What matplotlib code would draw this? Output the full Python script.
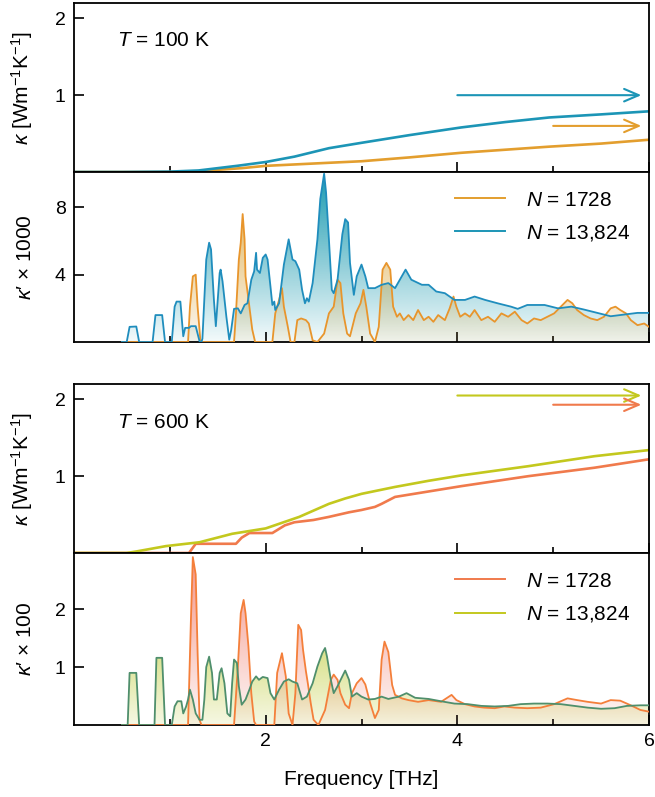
import numpy as np
import matplotlib
matplotlib.use("Agg")
import matplotlib.pyplot as plt
from matplotlib.colors import to_rgb
from matplotlib.lines import Line2D

plt.rcParams['font.family'] = ['Liberation Sans', 'DejaVu Sans']
plt.rcParams['mathtext.fontset'] = 'custom'
plt.rcParams['mathtext.rm'] = 'Liberation Sans'
plt.rcParams['mathtext.it'] = 'Liberation Sans:italic'
plt.rcParams['font.size'] = 15

# DATOS: CONDUCTIVIDAD ACUMULADA, T = 100 K
# ========================================
f_acum_13_100 = [0, 0.5, 1.0, 1.3, 1.5, 1.7, 2.0, 2.3, 2.66, 3.0, 3.5, 4.04, 4.5, 4.96, 5.5, 6.0]
k_acum_13_100 = [0, 0, 0.005, 0.02, 0.05, 0.08, 0.13, 0.2, 0.31, 0.38, 0.48, 0.58, 0.65, 0.71, 0.75, 0.79]
f_acum_17_100 = [0, 1.2, 1.4, 1.75, 2.0, 2.66, 3.0, 3.5, 4.04, 4.5, 4.96, 5.5, 6.0]
k_acum_17_100 = [0, 0, 0.02, 0.05, 0.08, 0.12, 0.14, 0.19, 0.25, 0.29, 0.33, 0.37, 0.42]
k_final_100 = [1.0, 0.6]        # flechas (N=13824, N=1728)

# DATOS: ESPECTRO k' x 1000, T = 100 K
# ===================================
f_esp_13_100 = [0.5, 0.55, 0.58, 0.65, 0.68, 0.82, 0.85, 0.92, 0.95, 1.02, 1.05, 1.07, 1.11, 1.14,
                1.16, 1.2, 1.22, 1.27, 1.31, 1.33, 1.34, 1.38, 1.41, 1.43, 1.46, 1.48, 1.52, 1.53,
                1.55, 1.59, 1.62, 1.64, 1.67, 1.71, 1.74, 1.78, 1.81, 1.85, 1.88, 1.90, 1.91, 1.94,
                1.97, 2.0, 2.02, 2.05, 2.07, 2.09, 2.1, 2.14, 2.19, 2.24, 2.28, 2.31, 2.35, 2.38,
                2.41, 2.43, 2.45, 2.49, 2.54, 2.57, 2.61, 2.63, 2.66, 2.69, 2.71, 2.75, 2.8, 2.83,
                2.86, 2.88, 2.92, 2.95, 3.0, 3.04, 3.07, 3.14, 3.21, 3.28, 3.35, 3.40, 3.46, 3.52,
                3.63, 3.70, 3.78, 3.87, 3.97, 4.08, 4.18, 4.29, 4.42, 4.56, 4.63, 4.73, 4.91, 5.05,
                5.19, 5.32, 5.46, 5.6, 5.74, 5.88, 6.0]
k_esp_13_100 = [0, 0, 0.9, 0.92, 0, 0, 1.6, 1.6, 0, 0, 2.1, 2.4, 2.4, 0.34,
                0.84, 0.84, 0.94, 0.94, 0.04, 0, 0.2, 4.9, 5.9, 5.5, 2.5, 0.94, 4.1, 4.3,
                3.6, 1.5, 0.14, 0.7, 1.97, 2.0, 1.7, 2.2, 2.3, 3.7, 4.2, 5.3, 4.3, 4.1,
                5.0, 5.2, 4.9, 3.3, 2.2, 2.4, 1.9, 2.3, 4.6, 6.1, 4.9, 4.8, 4.3, 3.1,
                2.3, 2.6, 2.4, 3.5, 6.1, 8.5, 10.0, 8.9, 6.1, 3.1, 2.9, 3.7, 6.4, 7.3,
                7.1, 4.7, 2.8, 3.9, 4.6, 3.9, 3.2, 3.2, 3.4, 3.5, 3.2, 3.7, 4.3, 3.7,
                3.4, 3.4, 3.0, 2.9, 2.5, 2.5, 2.7, 2.5, 2.3, 2.1, 1.97, 2.2, 2.2, 2.0,
                2.1, 1.93, 1.73, 1.53, 1.63, 1.73, 1.73]
f_esp_17_100 = [0.5, 1.19, 1.21, 1.24, 1.27, 1.29, 1.32, 1.67, 1.69, 1.72, 1.74, 1.76, 1.78, 1.79,
                1.83, 1.86, 1.89, 2.07, 2.1, 2.14, 2.17, 2.19, 2.23, 2.26, 2.3, 2.33, 2.37, 2.42,
                2.45, 2.49, 2.54, 2.61, 2.66, 2.71, 2.75, 2.78, 2.81, 2.85, 2.88, 2.94, 2.99, 3.02,
                3.05, 3.09, 3.14, 3.18, 3.22, 3.26, 3.30, 3.33, 3.37, 3.40, 3.44, 3.49, 3.54, 3.59,
                3.65, 3.70, 3.75, 3.80, 3.87, 3.92, 3.96, 3.99, 4.03, 4.08, 4.13, 4.18, 4.25, 4.32,
                4.39, 4.46, 4.53, 4.6, 4.67, 4.73, 4.8, 4.87, 4.94, 5.01, 5.08, 5.15, 5.2, 5.25,
                5.32, 5.39, 5.46, 5.53, 5.6, 5.65, 5.7, 5.76, 5.81, 5.88, 5.95, 6.0]
k_esp_17_100 = [0, 0, 2.1, 3.9, 4.0, 2.1, 0, 0, 1.7, 4.9, 5.9, 7.6, 6.1, 3.9,
                2.1, 0.74, 0, 0, 1.7, 2.5, 3.2, 2.1, 0.94, 0, 0, 1.3, 1.4, 1.3,
                1.1, 0.1, 0, 0.5, 1.7, 2.1, 3.7, 3.5, 1.7, 0.5, 0.34, 1.7, 2.3, 3.1,
                2.1, 0.5, 0, 0.9, 4.3, 4.7, 4.3, 2.1, 1.5, 1.7, 1.3, 1.6, 1.3, 1.9,
                1.3, 1.5, 1.2, 1.6, 1.3, 2.0, 2.7, 2.1, 1.5, 1.7, 1.5, 1.9, 1.3, 1.5,
                1.2, 1.7, 1.5, 1.8, 1.3, 1.1, 1.4, 1.3, 1.5, 1.7, 2.1, 2.5, 2.3, 1.9,
                1.6, 1.4, 1.3, 1.5, 2.0, 2.1, 1.9, 1.7, 1.3, 1.0, 1.1, 0.9]

# DATOS: CONDUCTIVIDAD ACUMULADA, T = 600 K
# ========================================
f_acum_13_600 = [0, 0.55, 0.65, 0.96, 1.31, 1.65, 2.0, 2.35, 2.66, 2.83, 3.0, 3.35, 3.70, 4.04, 4.74, 5.43, 6.0]
k_acum_13_600 = [0, 0, 0.02, 0.09, 0.14, 0.25, 0.32, 0.47, 0.64, 0.71, 0.77, 0.86, 0.94, 1.01, 1.13, 1.26, 1.34]
f_acum_17_600 = [0, 1.2, 1.27, 1.69, 1.75, 1.83, 2.07, 2.2, 2.3, 2.5, 2.66, 2.87, 3.0, 3.14, 3.21, 3.35, 4.04, 4.74, 5.43, 6.0]
k_acum_17_600 = [0, 0, 0.12, 0.12, 0.2, 0.26, 0.26, 0.36, 0.40, 0.43, 0.47, 0.53, 0.56, 0.6, 0.64, 0.73, 0.87, 1.0, 1.11, 1.22]
k_final_600 = [2.05, 1.93]      # flechas (N=13824, N=1728)

# DATOS: ESPECTRO k' x 100, T = 600 K
# ==================================
f_esp_13_600 = [0.5, 0.56, 0.58, 0.65, 0.68, 0.84, 0.86, 0.92, 0.95, 1.02, 1.05, 1.08, 1.12, 1.14,
                1.17, 1.19, 1.21, 1.24, 1.27, 1.31, 1.34, 1.36, 1.38, 1.41, 1.44, 1.46, 1.49, 1.52,
                1.54, 1.57, 1.6, 1.63, 1.65, 1.67, 1.70, 1.72, 1.75, 1.79, 1.83, 1.86, 1.9, 1.93,
                1.97, 2.02, 2.05, 2.09, 2.14, 2.19, 2.24, 2.28, 2.33, 2.38, 2.43, 2.49, 2.54, 2.59,
                2.62, 2.64, 2.68, 2.71, 2.75, 2.8, 2.83, 2.87, 2.9, 2.95, 3.0, 3.07, 3.14, 3.21,
                3.28, 3.39, 3.47, 3.56, 3.70, 3.83, 3.97, 4.11, 4.25, 4.39, 4.53, 4.66, 4.8, 4.94,
                5.08, 5.22, 5.36, 5.5, 5.64, 5.77, 5.91, 6.0]
k_esp_13_600 = [0, 0, 0.9, 0.9, 0, 0, 1.16, 1.16, 0, 0, 0.32, 0.41, 0.41, 0.2,
                0.32, 0.44, 0.61, 0.44, 0.2, 0.09, 0.09, 0.44, 1.0, 1.18, 0.9, 0.44, 0.44, 0.9,
                0.98, 0.72, 0.2, 0.15, 0.72, 1.13, 1.07, 0.67, 0.35, 0.44, 0.61, 0.75, 0.84, 0.78,
                0.83, 0.81, 0.55, 0.44, 0.61, 0.75, 0.79, 0.75, 0.72, 0.44, 0.49, 0.72, 1.01, 1.24,
                1.33, 1.18, 0.78, 0.55, 0.67, 0.84, 0.94, 0.78, 0.49, 0.55, 0.49, 0.44, 0.45, 0.49,
                0.45, 0.49, 0.55, 0.47, 0.45, 0.41, 0.37, 0.36, 0.33, 0.32, 0.33, 0.36, 0.37, 0.37,
                0.36, 0.33, 0.30, 0.28, 0.29, 0.33, 0.34, 0.34]
f_esp_17_600 = [0.5, 1.19, 1.22, 1.24, 1.27, 1.29, 1.31, 1.33, 1.67, 1.71, 1.74, 1.77, 1.79, 1.82,
                1.85, 1.88, 1.9, 2.09, 2.12, 2.17, 2.21, 2.24, 2.28, 2.31, 2.34, 2.37, 2.39, 2.42,
                2.44, 2.47, 2.5, 2.55, 2.62, 2.68, 2.71, 2.75, 2.78, 2.83, 2.87, 2.9, 2.95, 3.0,
                3.04, 3.09, 3.14, 3.18, 3.21, 3.24, 3.28, 3.32, 3.35, 3.42, 3.49, 3.59, 3.70, 3.83,
                3.94, 3.99, 4.08, 4.18, 4.28, 4.39, 4.49, 4.6, 4.73, 4.87, 5.01, 5.15, 5.25, 5.36,
                5.5, 5.6, 5.7, 5.81, 5.91, 6.0]
k_esp_17_600 = [0, 0, 1.82, 2.9, 2.6, 1.24, 0.09, 0, 0, 1.01, 1.93, 2.16, 1.93, 1.36,
                0.55, 0.06, 0, 0, 0.9, 1.24, 0.84, 0.2, 0, 0.55, 1.73, 1.64, 1.3, 0.93,
                0.72, 0.38, 0.09, 0, 0.26, 0.78, 0.87, 0.78, 0.55, 0.35, 0.29, 0.55, 0.72, 0.81,
                0.70, 0.38, 0.12, 0.26, 1.13, 1.44, 1.26, 0.69, 0.52, 0.46, 0.43, 0.4, 0.43, 0.4,
                0.52, 0.43, 0.36, 0.32, 0.30, 0.29, 0.32, 0.30, 0.29, 0.30, 0.36, 0.46, 0.43, 0.40,
                0.37, 0.43, 0.42, 0.34, 0.26, 0.23]

etiquetas = [r'$N$ = 1728', r'$N$ = 13,824']

# COLORES
c_nar = '#e39e2e'
c_azu = '#1c95b6'
c_ama = '#c3c81e'
c_roj = '#f07a4c'
c_ver = '#4f8f6c'


def relleno(ax, x, y, color, ymax, a_bot, a_top, z):
    # relleno con degradado vertical recortado bajo la curva
    poly = ax.fill_between(x, 0, y, facecolor='none', edgecolor='none')
    grad = np.zeros((256, 1, 4))
    grad[:, 0, :3] = to_rgb(color)
    grad[:, 0, 3] = np.linspace(a_bot, a_top, 256)
    im = ax.imshow(grad, extent=[x[0], x[-1], 0, ymax], origin='lower',
                   aspect='auto', zorder=z, interpolation='bilinear')
    im.set_clip_path(poly.get_paths()[0], transform=ax.transData)


def flecha(ax, x0, y, color):
    ax.annotate('', xy=(5.92, y), xytext=(x0, y),
                arrowprops=dict(arrowstyle='->,head_length=0.7,head_width=0.3',
                                color=color, lw=1.5, shrinkA=0, shrinkB=0))


fig = plt.figure(figsize=(6.55, 7.97), dpi=100)
izq, ancho = 74 / 655, 575 / 655
ax1 = fig.add_axes([izq, 1 - 172 / 797, ancho, 169 / 797])
ax2 = fig.add_axes([izq, 1 - 342 / 797, ancho, 170 / 797])
ax3 = fig.add_axes([izq, 1 - 553 / 797, ancho, 169 / 797])
ax4 = fig.add_axes([izq, 1 - 725 / 797, ancho, 172 / 797])

# panel 1
ax1.plot(f_acum_17_100, k_acum_17_100, color=c_nar, lw=1.9)
ax1.plot(f_acum_13_100, k_acum_13_100, color=c_azu, lw=1.9)
flecha(ax1, 4.0, k_final_100[0], c_azu)
flecha(ax1, 5.0, k_final_100[1], c_nar)
ax1.text(0.45, 1.71, r'$T$ = 100 K', va='center')
ax1.set_ylim(0, 2.2)
ax1.set_yticks([1, 2])

# panel 2
ymax2 = 10.1
relleno(ax2, f_esp_13_100, k_esp_13_100, '#1a9ab0', ymax2, 0.05, 1.0, 1)
relleno(ax2, f_esp_17_100, k_esp_17_100, '#d9a030', ymax2, 0.08, 0.9, 2)
ax2.plot(f_esp_17_100, k_esp_17_100, color='#e8952c', lw=1.3, zorder=3)
ax2.plot(f_esp_13_100, k_esp_13_100, color='#1f8dbd', lw=1.3, zorder=3)
ax2.set_ylim(0, ymax2)
ax2.set_yticks([4, 8])
h2 = [Line2D([], [], color=c_nar, lw=1.4), Line2D([], [], color=c_azu, lw=1.4)]
ax2.legend(h2, etiquetas, loc='upper right', frameon=False, handlelength=2.4,
           handletextpad=1.0, labelspacing=0.65, borderaxespad=0.5)

# panel 3
ax3.plot(f_acum_17_600, k_acum_17_600, color=c_roj, lw=1.9)
ax3.plot(f_acum_13_600, k_acum_13_600, color=c_ama, lw=1.9)
flecha(ax3, 4.0, k_final_600[0], c_ama)
flecha(ax3, 5.0, k_final_600[1], c_roj)
ax3.text(0.45, 1.70, r'$T$ = 600 K', va='center')
ax3.set_ylim(0, 2.2)
ax3.set_yticks([1, 2])

# panel 4
ymax4 = 2.97
relleno(ax4, f_esp_13_600, k_esp_13_600, '#b4c318', ymax4, 0.12, 1.0, 1)
relleno(ax4, f_esp_17_600, k_esp_17_600, '#f07868', ymax4, 0.05, 0.8, 2)
ax4.plot(f_esp_17_600, k_esp_17_600, color='#f47f3a', lw=1.3, zorder=3)
ax4.plot(f_esp_13_600, k_esp_13_600, color=c_ver, lw=1.3, zorder=3)
ax4.set_ylim(0, ymax4)
ax4.set_yticks([1, 2])
h4 = [Line2D([], [], color=c_roj, lw=1.4), Line2D([], [], color=c_ama, lw=1.4)]
ax4.legend(h4, etiquetas, loc='upper right', frameon=False, handlelength=2.4,
           handletextpad=1.0, labelspacing=0.65, borderaxespad=0.5)

ylabels = [r'$\kappa$ [Wm$^{-1}$K$^{-1}$]', '$\\kappa$\u2032 \u00d7 1000',
           r'$\kappa$ [Wm$^{-1}$K$^{-1}$]', '$\\kappa$\u2032 \u00d7 100']
for ax, lab in zip([ax1, ax2, ax3, ax4], ylabels):
    ax.set_xlim(0, 6)
    ax.set_xticks([2, 4, 6])
    ax.set_xticks([1, 3, 5], minor=True)
    ax.tick_params(which='both', direction='in', top=False, right=False, width=1.2)
    ax.tick_params(which='major', length=7, labelsize=14, pad=6)
    ax.tick_params(which='minor', length=4)
    ax.set_ylabel(lab)
    ax.yaxis.set_label_coords(-0.068, 0.5)
    for s in ax.spines.values():
        s.set_linewidth(1.3)
    if ax is not ax4:
        ax.tick_params(labelbottom=False)

ax4.set_xlabel('Frequency [THz]', labelpad=14)

plt.savefig('out.png', dpi=100)
